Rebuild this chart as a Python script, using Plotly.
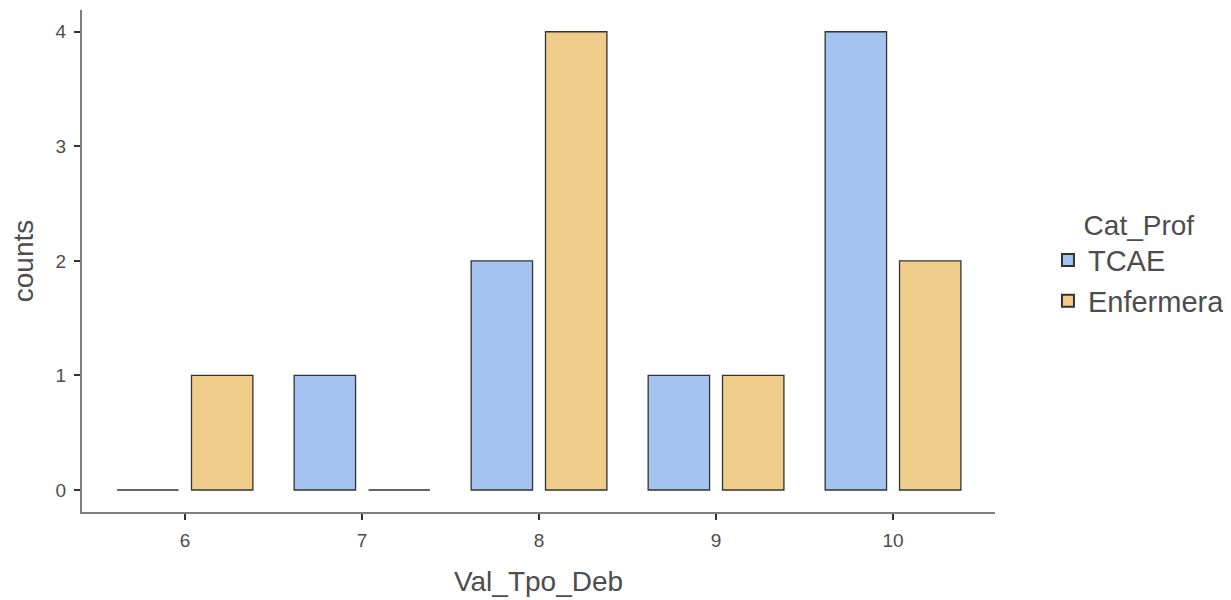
import plotly.graph_objects as go

categories = [6, 7, 8, 9, 10]
tcae = [0, 1, 2, 1, 4]
enfermera = [1, 0, 4, 1, 2]
y_ticks = [0, 1, 2, 3, 4]

line_col = "#333333"
txt = "#4d4d4d"
fig = go.Figure()
fig.add_trace(go.Bar(x=categories, y=tcae, name="TCAE",
                     marker=dict(color="#A4C3F0", line=dict(color=line_col, width=1.3))))
fig.add_trace(go.Bar(x=categories, y=enfermera, name="Enfermera",
                     marker=dict(color="#F0CC8A", line=dict(color=line_col, width=1.3))))

fig.update_layout(
    width=1231, height=600,
    barmode="group", bargap=0.16, bargroupgap=0.174,
    plot_bgcolor="white", paper_bgcolor="white",
    margin=dict(l=74, r=244, t=2, b=96),
    font=dict(family="Liberation Sans, Arial, sans-serif", color=txt),
    legend=dict(title=dict(text="Cat_Prof", font=dict(size=28, color=txt), side="top center"),
                font=dict(size=29, color=txt),
                x=1.058, y=0.625, xanchor="left", yanchor="top",
                tracegroupgap=0, itemsizing="constant"),
    xaxis=dict(range=[5.418, 10.576], tickvals=categories, ticktext=[str(c) for c in categories],
               showline=True, linecolor="#7f7f7f", linewidth=2, ticks="outside",
               tickcolor="#333333", ticklen=6, tickwidth=2, showgrid=False, zeroline=False,
               tickfont=dict(size=19, color=txt), ticklabelstandoff=4,
               title=dict(text="Val_Tpo_Deb", font=dict(size=28, color=txt), standoff=22)),
    yaxis=dict(range=[-0.192, 4.19], tickvals=y_ticks, showline=True, linecolor="#7f7f7f",
               linewidth=2, ticks="outside", tickcolor="#333333", ticklen=6, tickwidth=2,
               showgrid=False, zeroline=False, tickfont=dict(size=19, color=txt), ticklabelstandoff=4,
               title=dict(text="counts", font=dict(size=28, color=txt), standoff=20)),
)
fig.write_html("out.html")
